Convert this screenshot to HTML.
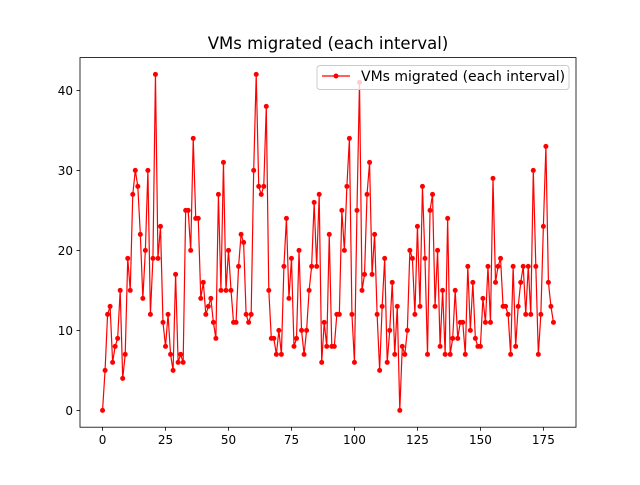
<!DOCTYPE html>
<html><head><meta charset="utf-8"><style>
body{margin:0;background:#fff}
svg text{font-family:"DejaVu Sans","Liberation Sans",sans-serif;fill:#000}
</style></head><body>
<svg width="640" height="480" viewBox="0 0 640 480" id="chart">
<rect width="640" height="480" fill="#fff"/>
<text x="328" y="49" text-anchor="middle" font-size="16.5">VMs migrated (each interval)</text>
<g id="grid"></g>
<g id="series"></g>
<rect x="80" y="57.6" width="496" height="369.6" fill="none" stroke="#000" stroke-width="0.8"/>
<g>
<rect x="317" y="65.5" width="252" height="24" rx="3" fill="#fff" fill-opacity="0.8" stroke="#ccc" stroke-width="1"/>
<line x1="322" y1="76" x2="350" y2="76" stroke="#f00" stroke-width="1.2"/>
<circle cx="336" cy="76" r="2.5" fill="#f00"/>
<text x="361" y="81" font-size="14">VMs migrated (each interval)</text>
</g>
</svg>
<script>
const values = [0,5,12,13,6,8,9,15,4,7,19,15,27,30,28,22,14,20,30,12,19,42,19,23,
11,8,12,7,5,17,6,7,6,25,25,20,34,24,24,14,16,12,13,14,11,9,27,
15,31,15,20,15,11,11,18,22,21,12,11,12,30,42,28,27,28,38,15,9,9,7,
10,7,18,24,14,19,8,9,20,10,7,10,15,18,26,18,27,6,11,8,22,8,
8,12,12,25,20,28,34,12,6,25,41,15,17,27,31,17,22,12,5,13,19,6,10,16,
7,13,0,8,7,10,20,19,12,23,13,28,19,7,25,27,13,20,8,15,7,24,7,9,
15,9,11,11,7,18,10,16,9,8,8,14,11,18,11,29,16,18,19,13,13,12,7,18,
8,13,16,18,12,18,12,30,18,7,12,23,33,16,13,11];
const xTicks = [0,25,50,75,100,125,150,175];
const yTicks = [0,10,20,30,40];

const NS = "http://www.w3.org/2000/svg";
const L=80,R=576,T=57.6,B=427.2;
const n = values.length;
const xmin = -0.05*(n-1), xmax = (n-1)*1.05;
const vmax = Math.max(...values), vmin = Math.min(...values);
const ymin = vmin-0.05*(vmax-vmin), ymax = vmax+0.05*(vmax-vmin);
const xs = v => L + (v-xmin)/(xmax-xmin)*(R-L);
const ys = v => B - (v-ymin)/(ymax-ymin)*(B-T);
const grid = document.getElementById('grid');
function mk(tag, attrs, parent){const e=document.createElementNS(NS,tag);for(const k in attrs)e.setAttribute(k,attrs[k]);parent.appendChild(e);return e;}

xTicks.forEach(t=>{
  const x=xs(t);
  const tk=mk('line',{x1:x,x2:x,y1:B,y2:B+3.5,stroke:'#000','stroke-width':0.8},grid);
  
  
  const lb=mk('text',{x:x,y:B+17,'text-anchor':'middle','font-size':12},grid);
  lb.textContent=t;
  
  
});
yTicks.forEach(t=>{
  const y=ys(t);
  const tk=mk('line',{x1:L-3.5,x2:L,y1:y,y2:y,stroke:'#000','stroke-width':0.8},grid);
  
  
  const lb=mk('text',{x:L-7,y:y+4.5,'text-anchor':'end','font-size':12},grid);
  lb.textContent=t;
  
  
});

const g=document.getElementById('series');
const pts=values.map((v,i)=>xs(i).toFixed(2)+','+ys(v).toFixed(2)).join(' ');
const line=mk('polyline',{points:pts,fill:'none',stroke:'#f00','stroke-width':1.2,'stroke-linejoin':'round'},g);


values.forEach((v,i)=>{
  const c=mk('circle',{cx:xs(i),cy:ys(v),r:2.5,fill:'#f00'},g);
  
  
});
</script>
</body></html>
